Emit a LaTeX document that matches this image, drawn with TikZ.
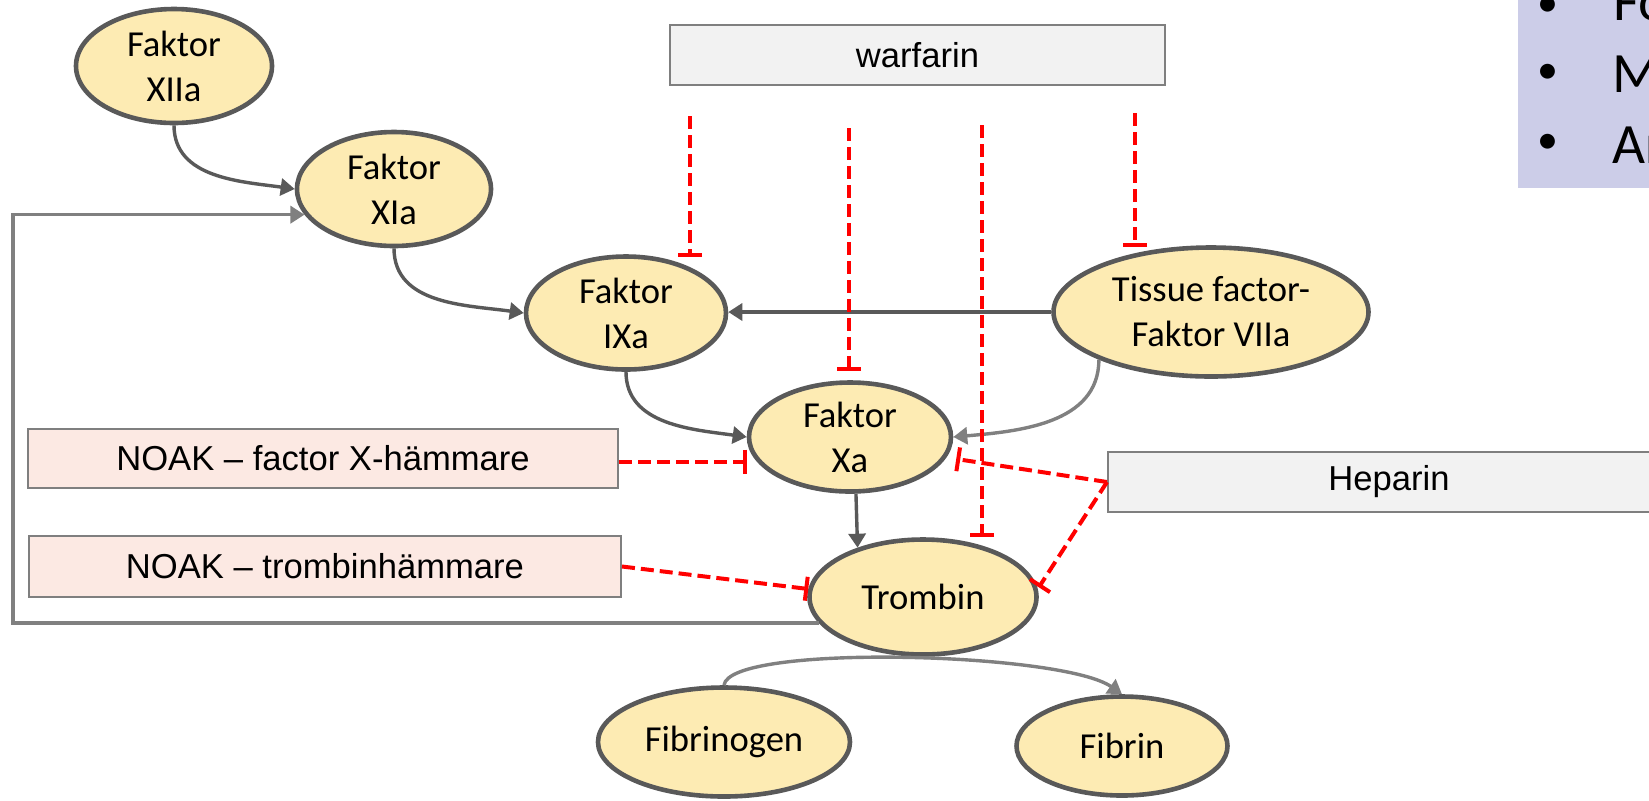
\documentclass[tikz,border=0pt]{standalone}
\usepackage{fontspec}
\setmainfont{Carlito}
\newfontfamily\arialf{Liberation Sans}
\newfontfamily\calf{Carlito}
\usetikzlibrary{shapes.geometric,arrows.meta,calc}
\definecolor{ellfill}{HTML}{FDEBB3}
\definecolor{ellline}{HTML}{595959}
\definecolor{boxline}{HTML}{7F7F7F}
\definecolor{greybox}{HTML}{F2F2F2}
\definecolor{pinkbox}{HTML}{FCE9E3}
\definecolor{darkarr}{HTML}{595959}
\definecolor{lightarr}{HTML}{808080}
\definecolor{panelc}{HTML}{CCCDE8}
\definecolor{inhred}{HTML}{FF0000}
\newcommand{\ellfont}{\calf\fontsize{18.3}{22.5}\selectfont}
\newcommand{\boxfont}{\arialf\fontsize{17.3}{20}\selectfont}
\newcommand{\panelfont}{\calf\fontsize{28.5}{35.75}\selectfont}
\newcommand{\bulletfont}{\calf\fontsize{21}{25}\selectfont}
\tikzset{
  ell/.style={ellipse, draw=ellline, line width=2.3pt, fill=ellfill, align=center, inner sep=0pt, font=\ellfont},
  drugbox/.style={rectangle, draw=boxline, line width=1pt, inner sep=0pt, font=\boxfont},
  act/.style={draw=darkarr, line width=1.7pt, -{Triangle[length=7pt,width=8.5pt]}},
  actlight/.style={act, draw=lightarr},
  inh/.style={draw=inhred, line width=2pt, dash pattern=on 6.5pt off 3pt, -{Bar[width=12pt]}},
  paneltext/.style={anchor=base west, font=\panelfont, inner sep=0pt},
  bullet/.style={anchor=base, font=\bulletfont, inner sep=0pt},
}
\begin{document}
\begin{tikzpicture}[x=0.5pt,y=-0.5pt]
\useasboundingbox (0,0) rectangle (1649,800);
\clip (0,0) rectangle (1649,800);
\fill[white] (0,0) rectangle (1649,800);

% side panel
\fill[panelc] (1518,-5) rectangle (1655,188);
\node[bullet] (b1) at (1548,16) {•};
\node[paneltext] (t1) at (1613,20) {Fo};
\node[bullet] (b2) at (1548,83) {•};
\node[paneltext] (t2) at (1612,92) {M};
\node[bullet] (b3) at (1548,153) {•};
\node[paneltext] (t3) at (1612,163) {Ar};

% factor nodes
\node[ell, minimum width=98pt, minimum height=57pt] (xiia) at (174,66) {Faktor\\XIIa};
\node[ell, minimum width=97pt, minimum height=57pt] (xia) at (394,189) {Faktor\\XIa};
\node[ell, minimum width=100pt, minimum height=56.5pt] (ixa) at (626,313) {Faktor\\IXa};
\node[ell, minimum width=157.5pt, minimum height=64.5pt] (tf) at (1211,312) {Tissue factor-\\Faktor VIIa};
\node[ell, minimum width=101pt, minimum height=54.5pt] (xa) at (850,437) {Faktor\\Xa};
\node[ell, minimum width=113.5pt, minimum height=57.5pt] (trombin) at (923,597) {Trombin};
\node[ell, minimum width=126pt, minimum height=54.5pt] (fgen) at (724,742) {Fibrinogen};
\node[ell, minimum width=105.5pt, minimum height=49.5pt] (fibrin) at (1122,746) {Fibrin};

% drug boxes
\node[drugbox, fill=greybox, minimum width=247.5pt, minimum height=30pt] (warf) at (917.5,55) {warfarin};
\node[drugbox, fill=pinkbox, minimum width=295pt, minimum height=29.5pt] (noakx) at (323,458.5) {NOAK – factor X-hämmare};
\node[drugbox, fill=pinkbox, minimum width=296pt, minimum height=30.5pt] (noakt) at (325,566.5) {NOAK – trombinhämmare};
\node[drugbox, fill=greybox, minimum width=281pt, minimum height=30pt] (hep) at (1389,482) {Heparin};

% activation arrows
\draw[act] (xiia.south) to[out=-90,in=172] (xia.west);
\draw[act] (xia.south) to[out=-90,in=172] (ixa.west);
\draw[act] (ixa.south) to[out=-90,in=172] (xa.west);
\draw[act] (tf.west) -- (tf.west -| ixa.east);
\draw[actlight] (tf.203) to[out=-90,in=5] (xa.east);
\draw[act] (xa.-84) -- (trombin.143);
\coordinate (loopx) at (13,400);
\draw[actlight] (trombin.194) -| (loopx) |- (xia.196);
\draw[actlight] (fgen.north) .. controls +(5,-42) and +(-60,-42) .. (fibrin.north);

% inhibition lines
\coordinate (w1) at (690,116);
\coordinate (w2) at (849,128);
\coordinate (w3) at (982,125);
\coordinate (w4) at (1135,113);
\draw[inh, shorten >=-1.5pt] (w1) -- (w1 |- ixa.north);
\draw[inh, shorten >=4.5pt] (w2) -- (w2 |- xa.north);
\draw[inh] (w3) -- (w3 |- trombin.north);
\draw[inh, shorten >=-1pt] (w4) -- (w4 |- tf.north);
\draw[inh] ($(noakx.east)+(0,3)$) -- ($(noakx.east -| xa.west)+(0,3)$);
\draw[inh] (noakt.east) -- (trombin.176);
\draw[inh, shorten >=5pt] (hep.west) -- (xa.-12);
\draw[inh, shorten >=1pt] (hep.west) -- (trombin.4);
\end{tikzpicture}
\end{document}
